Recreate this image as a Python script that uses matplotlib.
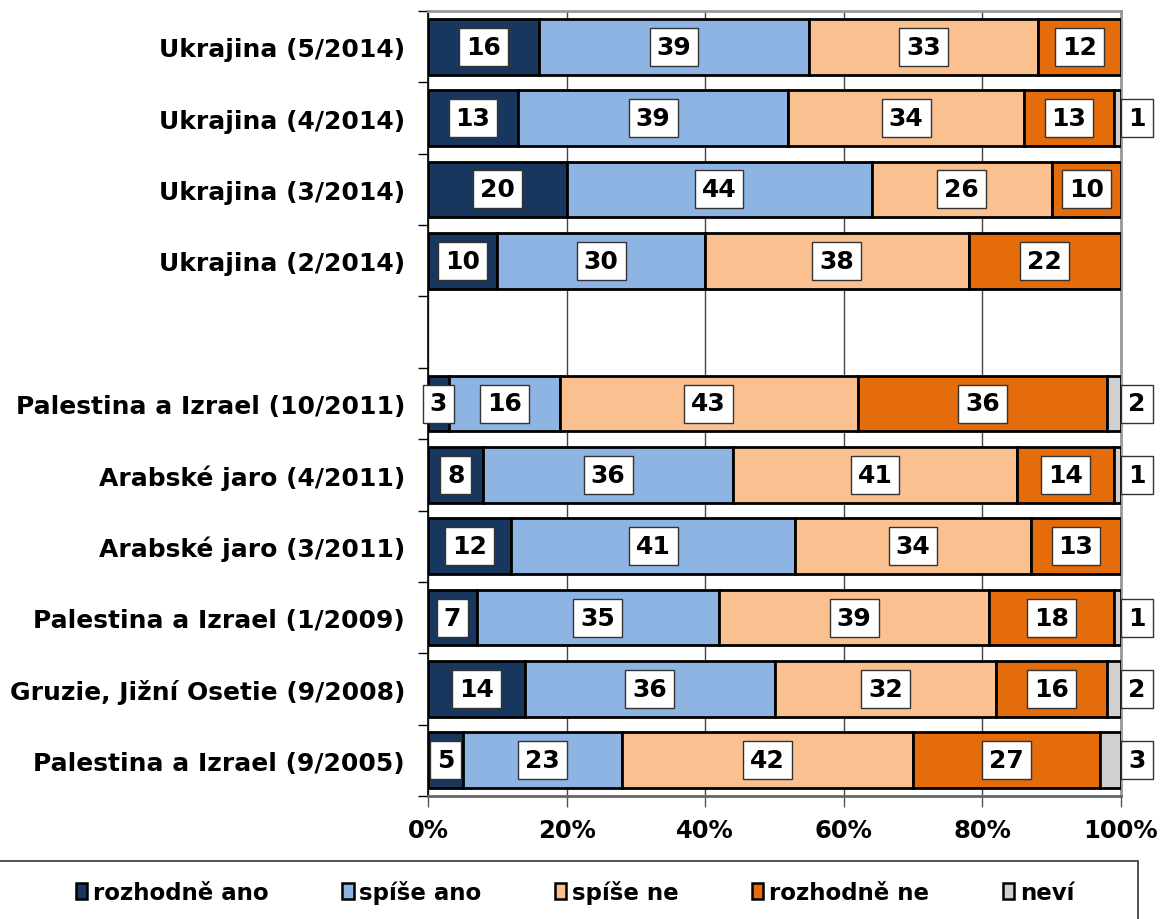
import matplotlib
matplotlib.use("Agg")
import matplotlib.pyplot as plt
from matplotlib.patches import Rectangle, Patch
import numpy as np

categories = ["Ukrajina (5/2014)", "Ukrajina (4/2014)", "Ukrajina (3/2014)", "Ukrajina (2/2014)", "",
              "Palestina a Izrael (10/2011)", "Arabské jaro (4/2011)", "Arabské jaro (3/2011)",
              "Palestina a Izrael (1/2009)", "Gruzie, Jižní Osetie (9/2008)", "Palestina a Izrael (9/2005)"]
series_names = ["rozhodně ano", "spíše ano", "spíše ne", "rozhodně ne", "neví"]
rozhodne_ano = [16, 13, 20, 10, 0, 3, 8, 12, 7, 14, 5]
spise_ano    = [39, 39, 44, 30, 0, 16, 36, 41, 35, 36, 23]
spise_ne     = [33, 34, 26, 38, 0, 43, 41, 34, 39, 32, 42]
rozhodne_ne  = [12, 13, 10, 22, 0, 36, 14, 13, 18, 16, 27]
nevi         = [0, 1, 0, 0, 0, 2, 1, 0, 1, 2, 3]
xtick_labels = ["0%", "20%", "40%", "60%", "80%", "100%"]

colors = ["#17375E", "#8DB4E2", "#FAC090", "#E46C0A", "#D0D0D0"]
series = [rozhodne_ano, spise_ano, spise_ne, rozhodne_ne, nevi]

plt.rcParams['font.family'] = ['DejaVu Sans']
fig = plt.figure(figsize=(11.64, 9.2), dpi=100)
ax = fig.add_axes([428/1164, 1-797/920, (1121-428)/1164, (797-12)/920])

y = np.arange(len(categories))
left = np.zeros(len(categories))
for vals, col in zip(series, colors):
    v = np.array(vals, dtype=float)
    mask = v > 0
    ax.barh(y[mask], v[mask], left=left[mask], height=0.78, color=col,
            edgecolor="black", linewidth=2, zorder=3)
    left += v

bbox = dict(boxstyle="square,pad=0.28", facecolor="white", edgecolor="#333333", linewidth=1)
left = np.zeros(len(categories))
for si, vals in enumerate(series):
    for i, v in enumerate(vals):
        if v > 0:
            if si == 4:
                xpos = 102.3
            else:
                xpos = left[i] + v / 2
            ax.text(xpos, y[i], str(v), ha="center", va="center", fontsize=18,
                    fontweight="bold", bbox=bbox, zorder=5, clip_on=False)
    left += np.array(vals, dtype=float)

ax.set_xlim(0, 100)
ax.set_ylim(len(categories) - 0.5, -0.5)
ax.set_xticks([0, 20, 40, 60, 80, 100])
ax.set_xticklabels(xtick_labels, fontsize=17.5, fontweight="bold")
ax.tick_params(axis="x", length=8, width=1, color="#555555", pad=8)
ax.set_yticks(y)
ax.set_yticklabels(categories, fontsize=18, fontweight="bold")
ax.tick_params(axis="y", which="major", length=0, pad=16.5)
ax.set_yticks(np.arange(-0.5, len(categories)), minor=True)
ax.tick_params(axis="y", which="minor", length=7, width=1, color="black")
ax.xaxis.grid(True, color="#444444", linewidth=1, zorder=0)
ax.set_axisbelow(True)
ax.spines["left"].set_color("black")
ax.spines["left"].set_linewidth(1.2)
ax.spines["bottom"].set_color("#666666")
ax.spines["bottom"].set_linewidth(2)
for s in ["top", "right"]:
    ax.spines[s].set_color("#999999")
    ax.spines[s].set_linewidth(2)

# legend frame
fig.patches.append(Rectangle((-0.01, -0.05), (1138/1164) + 0.01, 0.05 + (920-862)/920,
                             transform=fig.transFigure, facecolor="white",
                             edgecolor="#333333", linewidth=1.2, zorder=0))
handles = [Patch(facecolor=c, edgecolor="black", linewidth=1.8) for c in colors]
fig.legend(handles, series_names, loc="center", bbox_to_anchor=(575/1164, 1-893/920),
           ncol=5, frameon=False, prop=dict(size=16.5, weight="bold"),
           handlelength=0.5, handleheight=0.65, handletextpad=0.25, columnspacing=3.2)

fig.savefig("out.png", dpi=100)
